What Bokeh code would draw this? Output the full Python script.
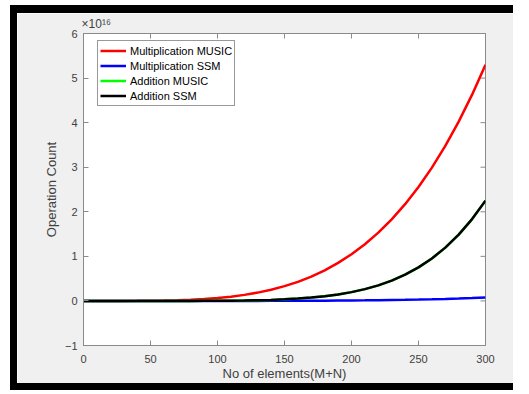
from bokeh.plotting import figure
from bokeh.models import Range1d, LinearAxis, Legend, LegendItem, FixedTicker, Spacer
from bokeh.layouts import column, row
from bokeh.embed import file_html
from bokeh.resources import INLINE

# Number of elements (M+N)
elements = [0, 10, 20, 30, 40, 50, 60, 70, 80, 90, 100, 110, 120, 130, 140, 150,
            160, 170, 180, 190, 200, 210, 220, 230, 240, 250, 260, 270, 280, 290, 300]
# Operation counts in units of 1e16
mult_music = [0, 0.00001, 0.0001, 0.0005, 0.0017, 0.0041, 0.0085, 0.0157, 0.0268, 0.0429,
              0.0654, 0.0958, 0.1357, 0.1869, 0.2514, 0.3313, 0.4288, 0.5465, 0.6869, 0.8527,
              1.0469, 1.2725, 1.5327, 1.8311, 2.1709, 2.5559, 2.9902, 3.4773, 4.0218, 4.6279, 5.30]
mult_ssm = [0, 0, 0, 0, 0, 0.00001, 0.00002, 0.00004, 0.00008, 0.00018,
            0.0003, 0.0005, 0.0008, 0.0012, 0.0017, 0.0023, 0.0032, 0.0044, 0.0058, 0.0076,
            0.0099, 0.0126, 0.0159, 0.0199, 0.0246, 0.0301, 0.0367, 0.0443, 0.0531, 0.0633, 0.075]
add_music = [0, 0, 0, 0, 0.00001, 0.00005, 0.00014, 0.00036, 0.0008, 0.0016,
             0.0031, 0.0055, 0.0092, 0.0149, 0.0232, 0.0352, 0.0518, 0.0745, 0.1050, 0.1452,
             0.1975, 0.2647, 0.3499, 0.4569, 0.5898, 0.7535, 0.9535, 1.1957, 1.4873, 1.8359, 2.25]
add_ssm = [0, 0, 0, 0, 0.00001, 0.00005, 0.00014, 0.00036, 0.0008, 0.0016,
           0.0031, 0.0055, 0.0092, 0.0149, 0.0232, 0.0352, 0.0518, 0.0745, 0.1050, 0.1452,
           0.1975, 0.2647, 0.3499, 0.4569, 0.5898, 0.7535, 0.9535, 1.1957, 1.4873, 1.8359, 2.25]
x_ticks = [0, 50, 100, 150, 200, 250, 300]
y_ticks = [-1, 0, 1, 2, 3, 4, 5, 6]
exponent_label = "×10¹⁶"

FONT = "Liberation Sans"
AX = "#8a8a8a"
TXT = "#404040"

FIG_W = 496
X0, X1 = 0, 300
FRAME_W = 402
p = figure(width=FIG_W, height=370, output_backend="svg", toolbar_location=None,
           x_range=Range1d(X0, X1), y_range=Range1d(-1, 6),
           min_border_left=66, min_border_right=28, min_border_top=19, min_border_bottom=37,
           background_fill_color="white", border_fill_color="#f0f0f0")
p.grid.visible = False
p.outline_line_color = AX

for ax in (p.xaxis[0], p.yaxis[0]):
    ax.axis_line_color = AX
    ax.major_tick_line_color = AX
    ax.major_tick_in = 5
    ax.major_tick_out = 0
    ax.minor_tick_line_color = None
    ax.major_label_text_font = FONT
    ax.major_label_text_font_size = "11px"
    ax.major_label_text_color = TXT
    ax.axis_label_text_font = FONT
    ax.axis_label_text_font_size = "13px"
    ax.axis_label_text_font_style = "normal"
    ax.axis_label_text_color = TXT

p.xaxis[0].ticker = FixedTicker(ticks=x_ticks)
p.yaxis[0].ticker = FixedTicker(ticks=y_ticks)
p.xaxis[0].axis_label = "No of elements(M+N)"
p.yaxis[0].axis_label = "Operation Count"
p.xaxis[0].major_label_standoff = 9
p.xaxis[0].axis_label_standoff = 0
p.yaxis[0].major_label_standoff = 6
p.yaxis[0].axis_label_standoff = 3

top = LinearAxis(ticker=FixedTicker(ticks=[9.5], minor_ticks=x_ticks),
                 major_label_overrides={9.5: exponent_label})
top.axis_line_color = AX
top.major_tick_line_color = None
top.major_tick_in = 0
top.major_tick_out = 0
top.minor_tick_line_color = AX
top.minor_tick_in = 5
top.minor_tick_out = 0
top.major_label_text_font = FONT
top.major_label_text_font_size = "12px"
top.major_label_text_color = TXT
top.major_label_standoff = 3
p.add_layout(top, "above")

# inward tick marks on the right edge of the box (5 px long)
tick_len = 5 * (X1 - X0) / FRAME_W
p.segment(x0=[X1 - tick_len] * len(y_ticks), y0=y_ticks, x1=[X1] * len(y_ticks), y1=y_ticks,
          line_color=AX, line_width=1)

r1 = p.line(elements, mult_music, line_color="#ff0000", line_width=2.5)
r2 = p.line(elements, mult_ssm, line_color="#0000ff", line_width=2.5)
r3 = p.line(elements, add_music, line_color="#00ff00", line_width=2.5)
r4 = p.line(elements, add_ssm, line_color="#000000", line_width=2.5)

legend = Legend(items=[
    LegendItem(label="Multiplication MUSIC", renderers=[r1]),
    LegendItem(label="Multiplication SSM", renderers=[r2]),
    LegendItem(label="Addition MUSIC", renderers=[r3]),
    LegendItem(label="Addition SSM", renderers=[r4]),
], location=(14, 239))
legend.margin = 0
legend.padding = 2
legend.spacing = 0
legend.label_height = 15
legend.glyph_height = 15
legend.glyph_width = 26
legend.label_standoff = 4
legend.label_text_font = FONT
legend.label_text_font_size = "11px"
legend.label_text_color = "#000000"
legend.border_line_color = "#333333"
legend.border_line_width = 1
legend.background_fill_color = "white"
legend.background_fill_alpha = 1
p.add_layout(legend)

BLACK = {"background-color": "black"}
left_gap = Spacer(width=10, height=385)
left_bar = Spacer(width=7, height=385, styles=BLACK)
top_bar = Spacer(width=FIG_W, height=8, styles=BLACK)
bottom_bar = Spacer(width=FIG_W, height=7, styles=BLACK)
top_gap = Spacer(width=10, height=5)
layout = column(top_gap, row(left_gap, left_bar, column(top_bar, p, bottom_bar)))

open("out.html", "w").write(file_html(layout, INLINE))
